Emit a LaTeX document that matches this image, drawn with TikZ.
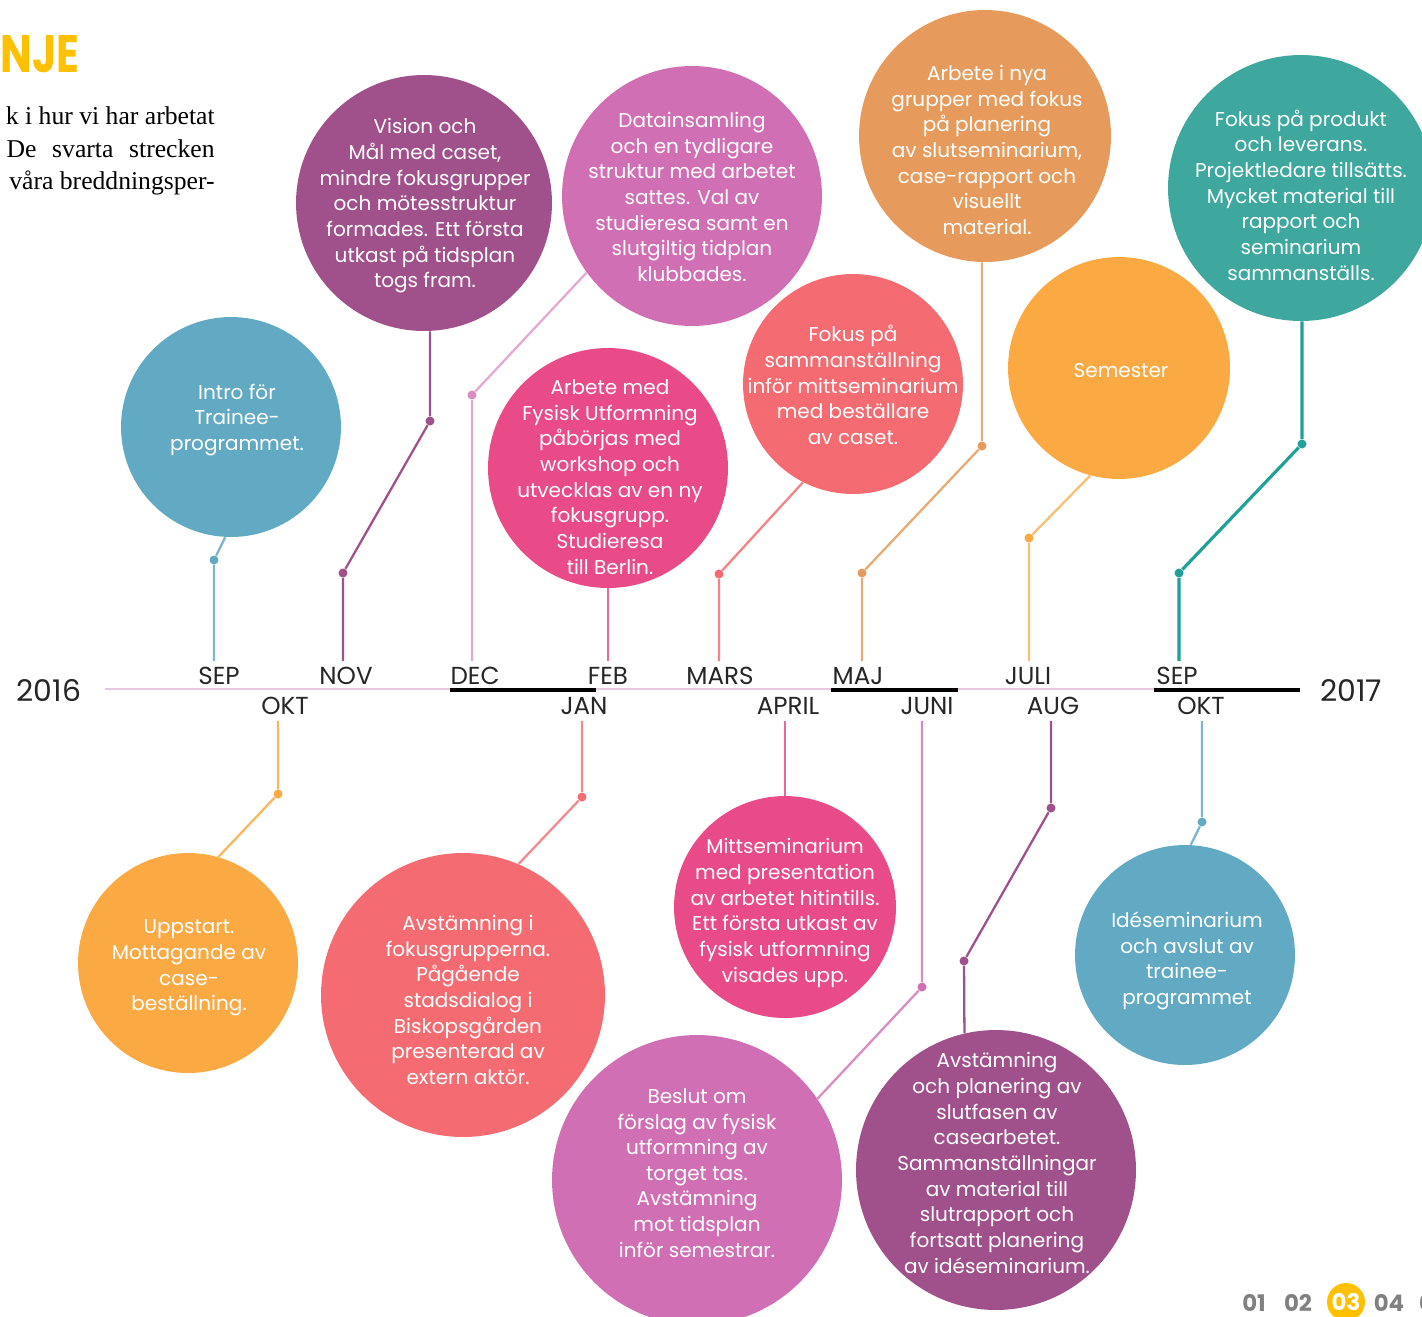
\documentclass[tikz,border=0pt]{standalone}
\usepackage{fontspec}
\setmainfont{Poppins}
\newfontfamily\bodyfont{Liberation Serif}
\definecolor{tlblue}{HTML}{62AAC3}
\definecolor{tlpurple}{HTML}{A0518B}
\definecolor{tlorchid}{HTML}{D06FB4}
\definecolor{tlpink}{HTML}{E84B87}
\definecolor{tlsalmon}{HTML}{F46C72}
\definecolor{tltan}{HTML}{E69B5C}
\definecolor{tlorange}{HTML}{FBA943}
\definecolor{tlteal}{HTML}{3EA79E}
\definecolor{tltealdark}{HTML}{1FA098}
\definecolor{tlline}{HTML}{E8C8E0}
\definecolor{tlyellow}{HTML}{FFC000}
\definecolor{tlgray}{HTML}{808080}

\begin{document}
\begin{tikzpicture}[x=0.02cm,y=-0.02cm,
  bubble/.style={circle, fill=#1, inner sep=0pt},
  bubbletext/.style={text=white, inner sep=0pt, align=center,
    font=\fontsize{11.4}{14.6}\selectfont},
  pin/.style={circle, fill=#1, inner sep=0pt, minimum size=0.18cm},
  stem/.style={draw=#1, line width=1.3pt},
  month/.style={font=\fontsize{14}{16}\selectfont, text=black!85},
  year/.style={font=\fontsize{17}{18}\selectfont, text=black!85},
  bodyline/.style={anchor=base east, inner sep=0pt, font=\bodyfont\fontsize{14.6}{18}\selectfont},
  page/.style={inner sep=0pt, font=\bfseries\fontsize{13}{14}\selectfont, text=tlgray}]
\clip (0,0) rectangle (1422,1316);

\node[anchor=west, inner sep=0pt, font=\bfseries\fontsize{30}{32}\selectfont, text=tlyellow] (title) at (0,54) {\scalebox{0.8}[1]{NJE}};
\node[bodyline] (body1) at (215,124) {k i hur vi har arbetat};
\node[bodyline] (body2) at (215,157) {\makebox[4.16cm][s]{De svarta strecken}};
\node[bodyline] (body3) at (215,189) {våra breddningsper-};

\node[bubble=tlblue, minimum size=4.4cm] (intro) at (231,427) {};
\node[bubbletext] (intro-t) at (237,420) {Intro för\\Trainee-\\programmet.};
\node[bubble=tlpurple, minimum size=5.12cm] (vision) at (424,203) {};
\node[bubbletext] (vision-t) at (425,206) {Vision och\\Mål med caset,\\mindre fokusgrupper\\och mötesstruktur\\formades. Ett första\\utkast på tidsplan\\togs fram.};
\node[bubble=tlorchid, minimum size=5.2cm] (datainsamling) at (692,196) {};
\node[bubbletext] (datainsamling-t) at (692,197) {Datainsamling\\och en tydligare\\struktur med arbetet\\sattes. Val av\\studieresa samt en\\slutgiltig tidplan\\klubbades.};
\node[bubble=tlpink, minimum size=4.8cm] (fysisk) at (608,468) {};
\node[bubbletext] (fysisk-t) at (610,477) {Arbete med\\Fysisk Utformning\\påbörjas med\\workshop och\\utvecklas av en ny\\fokusgrupp.\\Studieresa\\till Berlin.};
\node[bubble=tlsalmon, minimum size=4.4cm] (fokus) at (853,384) {};
\node[bubbletext] (fokus-t) at (853,385) {Fokus på\\sammanställning\\inför mittseminarium\\med beställare\\av caset.};
\node[bubble=tltan, minimum size=5.04cm] (grupper) at (985,136) {};
\node[bubbletext] (grupper-t) at (987,150) {Arbete i nya\\grupper med fokus\\på planering\\av slutseminarium,\\case-rapport och\\visuellt\\material.};
\node[bubble=tlorange, minimum size=4.44cm] (semester) at (1119,368) {};
\node[bubbletext] (semester-t) at (1121,371) {Semester};
\node[bubble=tlteal, minimum size=5.32cm] (produkt) at (1301,188) {};
\node[bubbletext] (produkt-t) at (1301,195) {Fokus på produkt\\och leverans.\\Projektledare tillsätts.\\Mycket material till\\rapport och\\seminarium\\sammanställs.};

\node[bubble=tlorange, minimum size=4.4cm] (uppstart) at (188,963) {};
\node[bubbletext] (uppstart-t) at (189,968) {Uppstart.\\Mottagande av\\case-\\beställning.};
\node[bubble=tlsalmon, minimum size=5.68cm] (dialog) at (463,995) {};
\node[bubbletext] (dialog-t) at (468,1000) {Avstämning i\\fokusgrupperna.\\Pågående\\stadsdialog i\\Biskopsgården\\presenterad av\\extern aktör.};
\node[bubble=tlpink, minimum size=4.44cm] (mitt) at (785,907) {};
\node[bubbletext] (mitt-t) at (785,913) {Mittseminarium\\med presentation\\av arbetet hitintills.\\Ett första utkast av\\fysisk utformning\\visades upp.};
\node[bubble=tlorchid, minimum size=5.8cm] (beslut) at (697,1180) {};
\node[bubbletext] (beslut-t) at (697,1173) {Beslut om\\förslag av fysisk\\utformning av\\torget tas.\\Avstämning\\mot tidsplan\\inför semestrar.};
\node[bubble=tlpurple, minimum size=5.6cm] (slutfas) at (996,1170) {};
\node[bubbletext] (slutfas-t) at (997,1163) {Avstämning\\och planering av\\slutfasen av\\casearbetet.\\Sammanställningar\\av material till\\slutrapport och\\fortsatt planering\\av idéseminarium.};
\node[bubble=tlblue, minimum size=4.4cm] (ide) at (1185,955) {};
\node[bubbletext] (ide-t) at (1187,961) {Idéseminarium\\och avslut av\\trainee-\\programmet};

\coordinate (tlstart) at (105,689);
\coordinate (tlend) at (1300,689);
\draw[tlline, line width=1.3pt] (tlstart) -- (tlend);
\draw[black, line width=2.3pt] (450,690) -- (596,690);
\draw[black, line width=2.3pt] (831,690) -- (958,690);
\draw[black, line width=2.3pt] (1154,690) -- (1300,690);

\node[year] (y2016) at (49,690) {2016};
\node[year] (y2017) at (1351,690) {2017};

\node[month] (msep) at (219,676) {SEP};
\node[month] (mnov) at (346,676) {NOV};
\node[month] (mdec) at (475,676) {DEC};
\node[month] (mfeb) at (608,676) {FEB};
\node[month] (mmars) at (720,676) {MARS};
\node[month] (mmaj) at (858,676) {MAJ};
\node[month] (mjuli) at (1028,676) {JULI};
\node[month] (msepb) at (1177,676) {SEP};
\node[month] (mokt) at (285,706) {OKT};
\node[month] (mjan) at (584,706) {JAN};
\node[month] (mapril) at (788,706) {APRIL};
\node[month] (mjuni) at (927,706) {JUNI};
\node[month] (maug) at (1053,706) {AUG};
\node[month] (moktb) at (1201,706) {OKT};

\node[pin=tlblue] (sep1) at (214,560) {};
\node[pin=tlpurple] (nov1) at (430,421) {};
\node[pin=tlpurple] (nov2) at (343,573) {};
\node[pin=tlorchid!80] (dec1) at (472,395) {};
\node[pin=tlsalmon] (mars1) at (719,574) {};
\node[pin=tltan] (maj1) at (982,446) {};
\node[pin=tltan] (maj2) at (862,573) {};
\node[pin=tlorange] (juli1) at (1029,538) {};
\node[pin=tltealdark!85!tlteal] (sepb1) at (1302,444) {};
\node[pin=tltealdark] (sepb2) at (1179,573) {};
\node[pin=tlorange] (okt1) at (278,794) {};
\node[pin=tlsalmon] (jan1) at (582,797) {};
\node[pin=tlorchid] (juni1) at (922,987) {};
\node[pin=tlpurple] (aug1) at (1051,808) {};
\node[pin=tlpurple] (aug2) at (964,961) {};
\node[pin=tlblue] (oktb1) at (1202,822) {};

\draw[stem=tlblue!85] (intro.-93) -- (sep1) -- (sep1 |- msep.north);
\draw[stem=tlpurple] (vision.south -| nov1) -- (nov1) -- (nov2) -- (nov2 |- mnov.north);
\draw[stem=tlorchid!60] (datainsamling.216) -- (dec1) -- (dec1 |- mdec.north);
\draw[stem=tlpink!85] (fysisk.south) -- (fysisk.south |- mfeb.north);
\draw[stem=tlsalmon!85] (fokus.243) -- (mars1) -- (mars1 |- mmars.north);
\draw[stem=tltan!85] (grupper.south -| maj1) -- (maj1) -- (maj2) -- (maj2 |- mmaj.north);
\draw[stem=tlorange!75] (semester.255) -- (juli1) -- (juli1 |- mjuli.north);
\draw[stem=tltealdark, line width=1.8pt] (produkt.south -| sepb1) -- (sepb1) -- (sepb2) -- (sepb2 |- msepb.north);

\draw[stem=tlorange!85] (okt1 |- mokt.south) -- (okt1) -- (uppstart.74);
\draw[stem=tlsalmon!80] (jan1 |- mjan.south) -- (jan1) -- (dialog.67);
\draw[stem=tlpink!85] (mitt.north |- mapril.south) -- (mitt.north);
\draw[stem=tlorchid!80] (juni1 |- mjuni.south) -- (juni1) -- (beslut.34);
\draw[stem=tlpurple] (aug1 |- maug.south) -- (aug1) -- (aug2) -- (slutfas.103);
\draw[stem=tlblue!85] (oktb1 |- moktb.south) -- (oktb1) -- (ide.87);

\node[page] (p01) at (1254,1303) {01};
\node[page] (p02) at (1298,1303) {02};
\node[circle, fill=tlyellow, minimum size=0.76cm, inner sep=0pt, text=white, font=\bfseries\fontsize{13}{14}\selectfont] (p03) at (1346,1302) {03};
\node[page] (p04) at (1389,1303) {04};
\node[page] (p05) at (1434,1303) {05};
\end{tikzpicture}
\end{document}
